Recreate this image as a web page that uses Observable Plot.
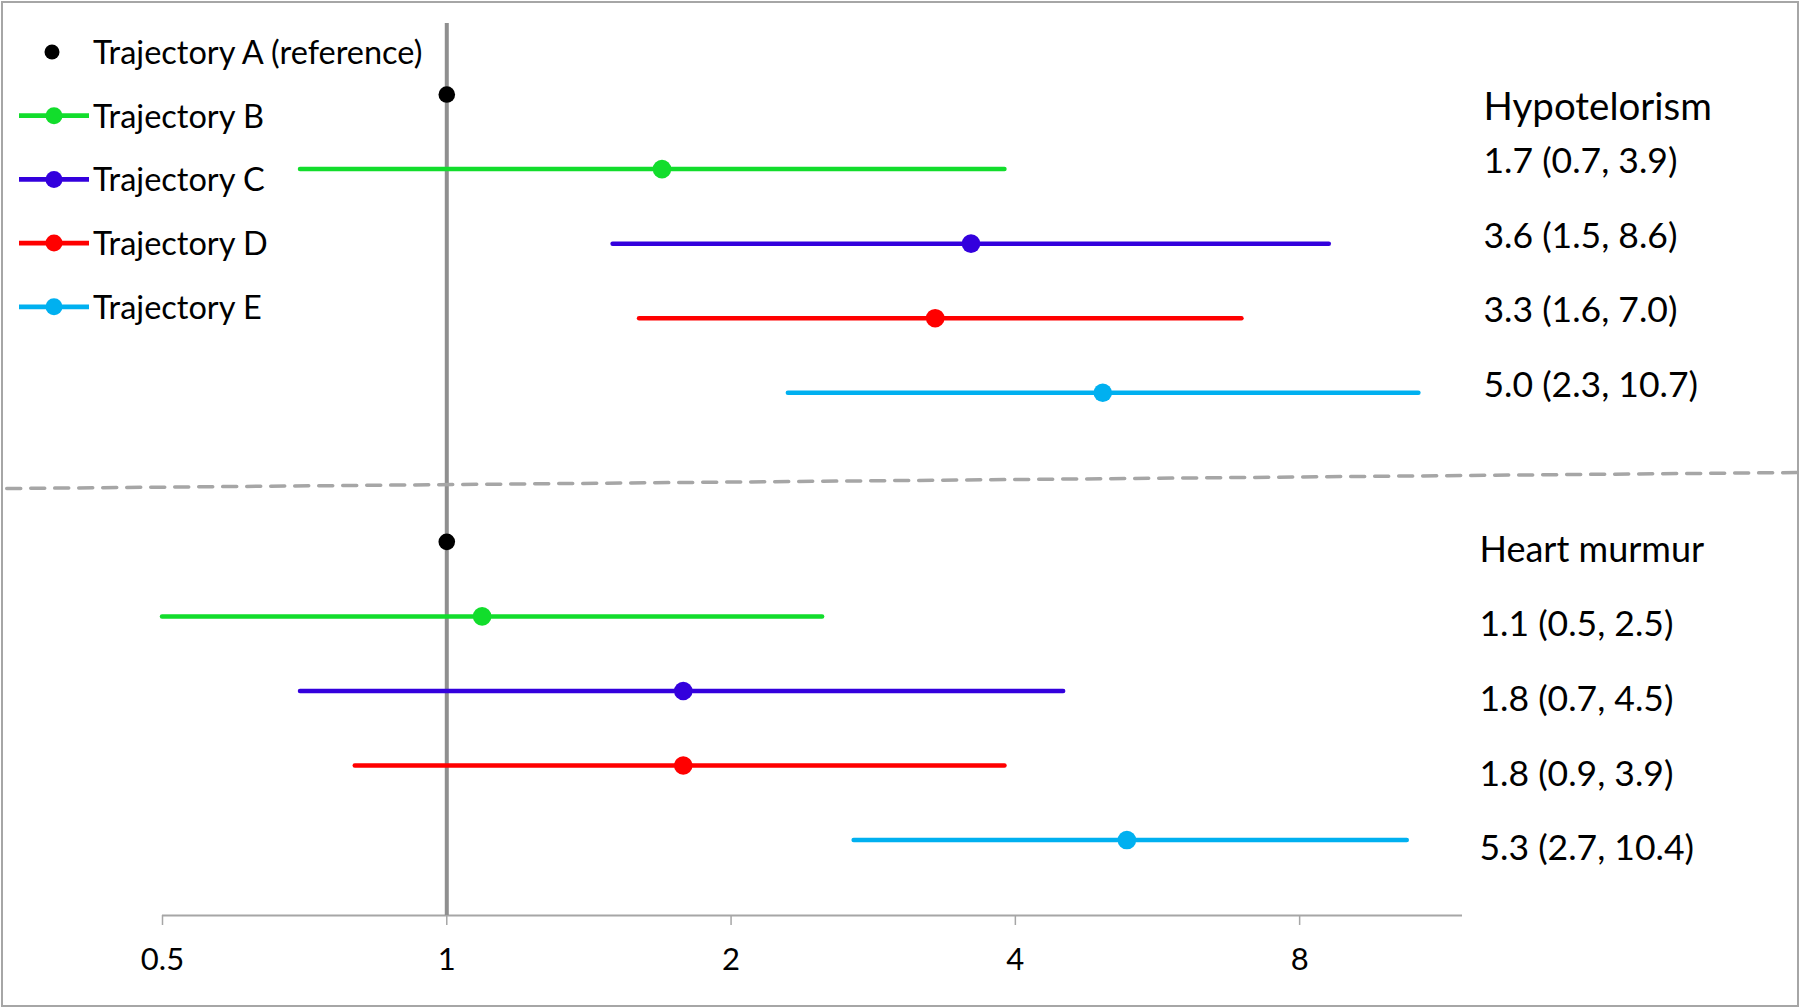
<!DOCTYPE html>
<html>
<head>
<meta charset="utf-8">
<script src="https://cdn.jsdelivr.net/npm/d3@7"></script>
<script src="https://cdn.jsdelivr.net/npm/@observablehq/plot@0.6"></script>
<style>
  html, body { margin: 0; padding: 0; background: #fff; }
  #wrap { position: relative; width: 1800px; height: 1008px; overflow: hidden; }
  #wrap svg.plot { outline: 2px solid #a6a6a6; outline-offset: -3px; }
  #legend { position: absolute; left: 0; top: 0; }
</style>
</head>
<body>
<div id="wrap"></div>
<script>
// ---- data ----
const trajectories = ["A", "B", "C", "D", "E"];
const legendLabels = ["Trajectory A (reference)", "Trajectory B", "Trajectory C", "Trajectory D", "Trajectory E"];
const colors = ["#000000", "#12dd2c", "#3300dd", "#ff0000", "#00b0f0"];
const outcomes = ["Hypotelorism", "Heart murmur"];

const hypoOR   = [1.0, 1.69, 3.59, 3.29, 4.95];
const hypoLow  = [null, 0.7, 1.5, 1.6, 2.3];
const hypoHigh = [null, 3.9, 8.6, 6.95, 10.7];
const hypoText = ["1.7 (0.7, 3.9)", "3.6 (1.5, 8.6)", "3.3 (1.6, 7.0)", "5.0 (2.3, 10.7)"];

const heartOR   = [1.0, 1.09, 1.78, 1.78, 5.25];
const heartLow  = [null, 0.5, 0.7, 0.8, 2.7];
const heartHigh = [null, 2.5, 4.5, 3.9, 10.4];
const heartText = ["1.1 (0.5, 2.5)", "1.8 (0.7, 4.5)", "1.8 (0.9, 3.9)", "5.3 (2.7, 10.4)"];

const xTicks = [0.5, 1, 2, 4, 8];
const xDomain = [0.5, 11.9];
const yDomain = [-0.953, 11.012];
const separator = [{x: 0.342, y: 5.285}, {x: 26.95, y: 5.07}];

// ---- build rows ----
const groups = [
  {outcome: outcomes[0], or: hypoOR, lo: hypoLow, hi: hypoHigh, text: hypoText},
  {outcome: outcomes[1], or: heartOR, lo: heartLow, hi: heartHigh, text: heartText}
];
const rows = [];
groups.forEach((g, gi) => {
  trajectories.forEach((t, i) => {
    rows.push({group: gi, traj: t, row: gi * 6 + i, or: g.or[i], lo: g.lo[i], hi: g.hi[i],
               color: colors[i], label: i > 0 ? g.text[i - 1] : null});
  });
});
const ciRows = rows.filter(d => d.lo != null);
const headers = groups.map((g, gi) => ({group: gi, row: gi * 6, text: g.outcome}));

const font = "Lato, 'Open Sans', sans-serif";

const chart = Plot.plot({
  width: 1800,
  height: 1008,
  marginLeft: 162,
  marginRight: 338,
  marginTop: 23,
  marginBottom: 93,
  style: {fontFamily: font, background: "#fff", overflow: "visible"},
  x: {type: "log", base: 2, domain: xDomain, axis: null},
  y: {domain: yDomain, reverse: true, axis: null},
  color: {type: "identity"},
  marks: [
    Plot.ruleY([yDomain[1]], {stroke: "#a6a6a6", strokeWidth: 2}),
    Plot.axisX({ticks: xTicks, tickFormat: d => String(d), tickSize: 10, tickPadding: 22,
                stroke: "#a6a6a6", strokeWidth: 1.5, strokeOpacity: 1, fontSize: 31, fill: "#000"}),
    Plot.ruleX([1], {stroke: "#8f8f8f", strokeWidth: 4}),
    Plot.line(separator, {x: "x", y: "y", stroke: "#a6a6a6", strokeWidth: 3.5, strokeDasharray: "14,10", clip: false}),
    Plot.ruleY(ciRows, {y: "row", x1: "lo", x2: "hi", stroke: "color", strokeWidth: 4.5, strokeLinecap: "round"}),
    Plot.dot(rows.filter(d => d.traj === "A"), {x: "or", y: "row", r: 8.3, fill: "color", stroke: null}),
    Plot.dot(rows.filter(d => d.traj !== "A"), {x: "or", y: "row", r: 9.3, fill: "color", stroke: null}),
    Plot.text(headers.filter(d => d.group === 0), {y: "row", text: "text", frameAnchor: "right", textAnchor: "start",
               lineAnchor: "bottom", dx: 21, dy: 25, fontSize: 38.5, fill: "#000"}),
    Plot.text(headers.filter(d => d.group === 1), {y: "row", text: "text", frameAnchor: "right", textAnchor: "start",
               lineAnchor: "bottom", dx: 17, dy: 20, fontSize: 36, fill: "#000"}),
    Plot.text(rows.filter(d => d.group === 0 && d.label), {y: "row", text: "label", frameAnchor: "right", textAnchor: "start",
               lineAnchor: "bottom", dx: 21, dy: 4, fontSize: 35.5, fill: "#000"}),
    Plot.text(rows.filter(d => d.group === 1 && d.label), {y: "row", text: "label", frameAnchor: "right", textAnchor: "start",
               lineAnchor: "bottom", dx: 17, dy: 20, fontSize: 35.5, fill: "#000"})
  ]
});
chart.classList.add("plot");
const wrap = document.getElementById("wrap");
wrap.appendChild(chart);

// ---- legend (top-left, overlaid) ----
const leg = d3.select(wrap).append("svg").attr("id", "legend")
  .attr("width", 480).attr("height", 340)
  .style("font-family", font);
legendLabels.forEach((lab, i) => {
  const cy = 52 + 63.7 * i;
  const g = leg.append("g");
  if (i > 0) {
    g.append("line").attr("x1", 19).attr("x2", 89).attr("y1", cy).attr("y2", cy)
      .attr("stroke", colors[i]).attr("stroke-width", 4.8);
  }
  g.append("circle").attr("cx", i > 0 ? 54 : 52).attr("cy", cy).attr("r", i > 0 ? 8.5 : 7.5).attr("fill", colors[i]);
  g.append("text").attr("x", 93).attr("y", cy + 12).attr("font-size", 32.5).attr("fill", "#000").text(lab);
});
</script>
</body>
</html>
